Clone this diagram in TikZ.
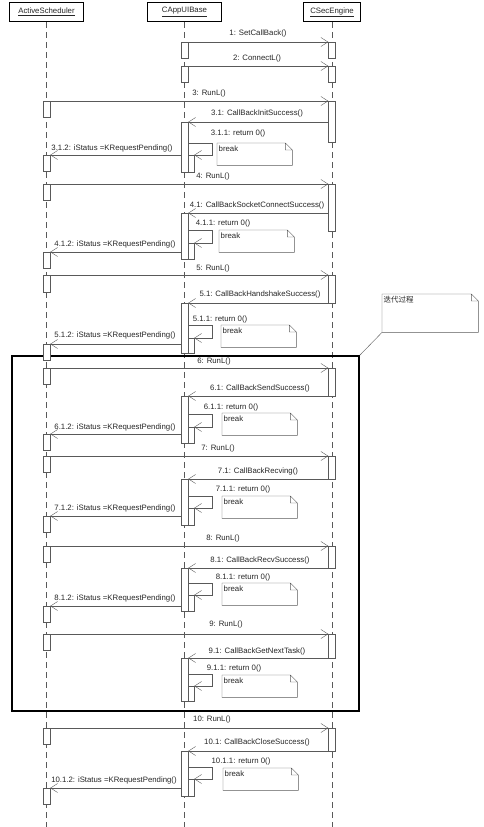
\documentclass[tikz,border=0pt]{standalone}
\usepackage{fontspec}
\setmainfont{Liberation Sans}
\newfontfamily\cjk{Noto Sans CJK SC}
\usepackage{tikz}
\usetikzlibrary{arrows.meta}

\definecolor{linec}{gray}{0.35}
\definecolor{textc}{gray}{0.15}

\begin{document}
\begin{tikzpicture}[x=1pt,y=-1pt,font=\fontsize{7.8}{9}\selectfont,text=textc,
    obj/.style={draw=black,line width=1.1pt,minimum height=19pt,inner sep=0pt},
    life/.style={draw=linec,dash pattern=on 6pt off 4pt},
    bar/.style={draw=linec,fill=white,minimum width=7pt,inner sep=0pt,anchor=north},
    sub/.style={bar,minimum width=6pt},
    msg/.style={draw=linec,-{Straight Barb[length=7pt,width=9pt]}},
    lbl/.style={inner sep=0pt},
    note/.style={anchor=north west,inner xsep=1.5pt,inner ysep=1.5pt,text width=72pt,
      align=left,text height=7pt,text depth=12pt},
    frame/.style={draw=black,line width=1.6pt,inner sep=0pt}]
  \useasboundingbox (0,0) rectangle (484,827);

  % objects and lifelines
  \node[obj,minimum width=74pt] (as) at (46.5,12) {\underline{ActiveScheduler}};
  \node[obj,minimum width=74pt] (ca) at (184.5,12) {\underline{CAppUIBase}};
  \node[obj,minimum width=57pt] (se) at (332,12) {\underline{CSecEngine}};
  \coordinate (asEnd) at (46.5,827);
  \coordinate (caEnd) at (184.5,827);
  \coordinate (seEnd) at (332,827);
  \draw[life] (as) -- (asEnd);
  \draw[life] (ca) -- (caEnd);
  \draw[life] (se) -- (seEnd);

  % loop frame and its note
  \node[frame,minimum width=347pt,minimum height=355pt] (loop) at (185.5,533.5) {};
  \node[note,text width=93pt,text depth=28pt] (it) at (382,294) {\cjk\fontsize{7.5}{9}\selectfont 迭代过程};
  \draw[linec] (it.south west) -- (loop.north east);

  % 1, 2
  \node[bar,minimum height=16pt] (ca1) at (184.5,42) {};
  \node[bar,minimum height=16pt] (se1) at (332,42) {};
  \draw[msg] (ca1.north east) -- (se1.north west);
  \node[lbl] (m1) at (258,33) {1: SetCallBack()};

  \node[bar,minimum height=16pt] (ca2) at (184.5,66) {};
  \node[bar,minimum height=16pt] (se2) at (332,66) {};
  \draw[msg] (ca2.north east) -- (se2.north west);
  \node[lbl] (m2) at (257,58) {2: ConnectL()};

  % 3
  \node[bar,minimum height=16pt] (as3) at (46.5,101) {};
  \node[bar,minimum height=41pt] (se3) at (332,101) {};
  \draw[msg] (as3.north east) -- (se3.north west);
  \node[lbl] (m3) at (209,93) {3: RunL()};
  \node[bar,minimum height=50pt] (ca3) at (184.5,122) {};
  \draw[msg] (se3.west |- ca3.north) -- (ca3.north east);
  \node[lbl] (m31) at (257,113) {3.1: CallBackInitSuccess()};
  \node[sub,minimum height=17pt] (ca3s) at (191,155) {};
  \draw[msg] ([yshift=-21pt]ca3.north east) -- ++(24,0) |- (ca3s.north east);
  \node[lbl] (m311) at (238,133) {3.1.1: return 0()};
  \node[note] (n3) at (217,143) {break};
  \node[bar,minimum height=16pt] (as3r) at (46.5,155) {};
  \draw[msg] (ca3.west |- as3r.north) -- (as3r.north east);
  \node[lbl] (m312) at (112,148) {3.1.2: iStatus =KRequestPending()};

  % 4
  \node[bar,minimum height=16pt] (as4) at (46.5,184) {};
  \node[bar,minimum height=47pt] (se4) at (332,184) {};
  \draw[msg] (as4.north east) -- (se4.north west);
  \node[lbl] (m4) at (213,176) {4: RunL()};
  \node[bar,minimum height=46pt] (ca4) at (184.5,213) {};
  \draw[msg] (se4.west |- ca4.north) -- (ca4.north east);
  \node[lbl] (m41) at (257,205) {4.1: CallBackSocketConnectSuccess()};
  \node[sub,minimum height=16pt] (ca4s) at (191,243) {};
  \draw[msg] ([yshift=-17pt]ca4.north east) -- ++(24,0) |- (ca4s.north east);
  \node[lbl] (m411) at (223,223) {4.1.1: return 0()};
  \node[note] (n4) at (219,230) {break};
  \node[bar,minimum height=16pt] (as4r) at (46.5,252) {};
  \draw[msg] (ca4.west |- as4r.north) -- (as4r.north east);
  \node[lbl] (m412) at (115,244) {4.1.2: iStatus =KRequestPending()};

  % 5
  \node[bar,minimum height=17pt] (as5) at (46.5,275) {};
  \node[bar,minimum height=28pt] (se5) at (332,275) {};
  \draw[msg] (as5.north east) -- (se5.north west);
  \node[lbl] (m5) at (213,268) {5: RunL()};
  \node[bar,minimum height=50pt] (ca5) at (184.5,303) {};
  \draw[msg] (se5.west |- ca5.north) -- (ca5.north east);
  \node[lbl] (m51) at (260,294) {5.1: CallBackHandshakeSuccess()};
  \node[sub,minimum height=15pt] (ca5s) at (191,338) {};
  \draw[msg] ([yshift=-22pt]ca5.north east) -- ++(24,0) |- (ca5s.north east);
  \node[lbl] (m511) at (220,319) {5.1.1: return 0()};
  \node[note] (n5) at (221,325) {break};
  \node[bar,minimum height=16pt] (as5r) at (46.5,344) {};
  \draw[msg] (ca5.west |- as5r.north) -- (as5r.north east);
  \node[lbl] (m512) at (115,335) {5.1.2: iStatus =KRequestPending()};

  % 6
  \node[bar,minimum height=16pt] (as6) at (46.5,368) {};
  \node[bar,minimum height=28pt] (se6) at (332,368) {};
  \draw[msg] (as6.north east) -- (se6.north west);
  \node[lbl] (m6) at (214,361) {6: RunL()};
  \node[bar,minimum height=47pt] (ca6) at (184.5,396) {};
  \draw[msg] (se6.west |- ca6.north) -- (ca6.north east);
  \node[lbl] (m61) at (260,388) {6.1: CallBackSendSuccess()};
  \node[sub,minimum height=16pt] (ca6s) at (191,427) {};
  \draw[msg] ([yshift=-18pt]ca6.north east) -- ++(24,0) |- (ca6s.north east);
  \node[lbl] (m611) at (231,407) {6.1.1: return 0()};
  \node[note] (n6) at (222,413) {break};
  \node[bar,minimum height=16pt] (as6r) at (46.5,434) {};
  \draw[msg] (ca6.west |- as6r.north) -- (as6r.north east);
  \node[lbl] (m612) at (115,427) {6.1.2: iStatus =KRequestPending()};

  % 7
  \node[bar,minimum height=16pt] (as7) at (46.5,456) {};
  \node[bar,minimum height=23pt] (se7) at (332,456) {};
  \draw[msg] (as7.north east) -- (se7.north west);
  \node[lbl] (m7) at (218,448) {7: RunL()};
  \node[bar,minimum height=46pt] (ca7) at (184.5,479) {};
  \draw[msg] (se7.west |- ca7.north) -- (ca7.north east);
  \node[lbl] (m71) at (258,471) {7.1: CallBackRecving()};
  \node[sub,minimum height=17pt] (ca7s) at (191,508) {};
  \draw[msg] ([yshift=-17pt]ca7.north east) -- ++(24,0) |- (ca7s.north east);
  \node[lbl] (m711) at (243,489) {7.1.1: return 0()};
  \node[note] (n7) at (222,496) {break};
  \node[bar,minimum height=16pt] (as7r) at (46.5,516) {};
  \draw[msg] (ca7.west |- as7r.north) -- (as7r.north east);
  \node[lbl] (m712) at (115,508) {7.1.2: iStatus =KRequestPending()};

  % 8
  \node[bar,minimum height=16pt] (as8) at (46.5,546) {};
  \node[bar,minimum height=22pt] (se8) at (332,546) {};
  \draw[msg] (as8.north east) -- (se8.north west);
  \node[lbl] (m8) at (223,538) {8: RunL()};
  \node[bar,minimum height=43pt] (ca8) at (184.5,568) {};
  \draw[msg] (se8.west |- ca8.north) -- (ca8.north east);
  \node[lbl] (m81) at (260,560) {8.1: CallBackRecvSuccess()};
  \node[sub,minimum height=16pt] (ca8s) at (191,595) {};
  \draw[msg] ([yshift=-15pt]ca8.north east) -- ++(24,0) |- (ca8s.north east);
  \node[lbl] (m811) at (243,577) {8.1.1: return 0()};
  \node[note] (n8) at (222,583) {break};
  \node[bar,minimum height=16pt] (as8r) at (46.5,606) {};
  \draw[msg] (ca8.west |- as8r.north) -- (as8r.north east);
  \node[lbl] (m812) at (115,598) {8.1.2: iStatus =KRequestPending()};

  % 9
  \node[bar,minimum height=16pt] (as9) at (46.5,634) {};
  \node[bar,minimum height=24pt] (se9) at (332,634) {};
  \draw[msg] (as9.north east) -- (se9.north west);
  \node[lbl] (m9) at (226,624) {9: RunL()};
  \node[bar,minimum height=43pt] (ca9) at (184.5,658) {};
  \draw[msg] (se9.west |- ca9.north) -- (ca9.north east);
  \node[lbl] (m91) at (257,651) {9.1: CallBackGetNextTask()};
  \node[sub,minimum height=15pt] (ca9s) at (191,686) {};
  \draw[msg] ([yshift=-16pt]ca9.north east) -- ++(24,0) |- (ca9s.north east);
  \node[lbl] (m911) at (234,668) {9.1.1: return 0()};
  \node[note] (n9) at (222,675) {break};

  % 10
  \node[bar,minimum height=16pt] (as10) at (46.5,728) {};
  \node[bar,minimum height=23pt] (se10) at (332,728) {};
  \draw[msg] (as10.north east) -- (se10.north west);
  \node[lbl] (m10) at (212,719) {10: RunL()};
  \node[bar,minimum height=45pt] (ca10) at (184.5,751) {};
  \draw[msg] (se10.west |- ca10.north) -- (ca10.north east);
  \node[lbl] (m101) at (257,742) {10.1: CallBackCloseSuccess()};
  \node[sub,minimum height=17pt] (ca10s) at (191,779) {};
  \draw[msg] ([yshift=-16pt]ca10.north east) -- ++(24,0) |- (ca10s.north east);
  \node[lbl] (m1011) at (241,761) {10.1.1: return 0()};
  \node[note] (n10) at (223,768) {break};
  \node[bar,minimum height=16pt] (as10r) at (46.5,788) {};
  \draw[msg] (ca10.west |- as10r.north) -- (as10r.north east);
  \node[lbl] (m1012) at (114,780) {10.1.2: iStatus =KRequestPending()};

  % note outlines with folded corner
  \foreach \nn in {n3,n4,n5,n6,n7,n8,n9,n10,it}
    \draw[linec] (\nn.north west) -- ([xshift=-7pt]\nn.north east) -- ([yshift=-7pt]\nn.north east)
      -- (\nn.south east) -- (\nn.south west) -- cycle
      ([xshift=-7pt]\nn.north east) |- ([yshift=-7pt]\nn.north east);
\end{tikzpicture}
\end{document}
